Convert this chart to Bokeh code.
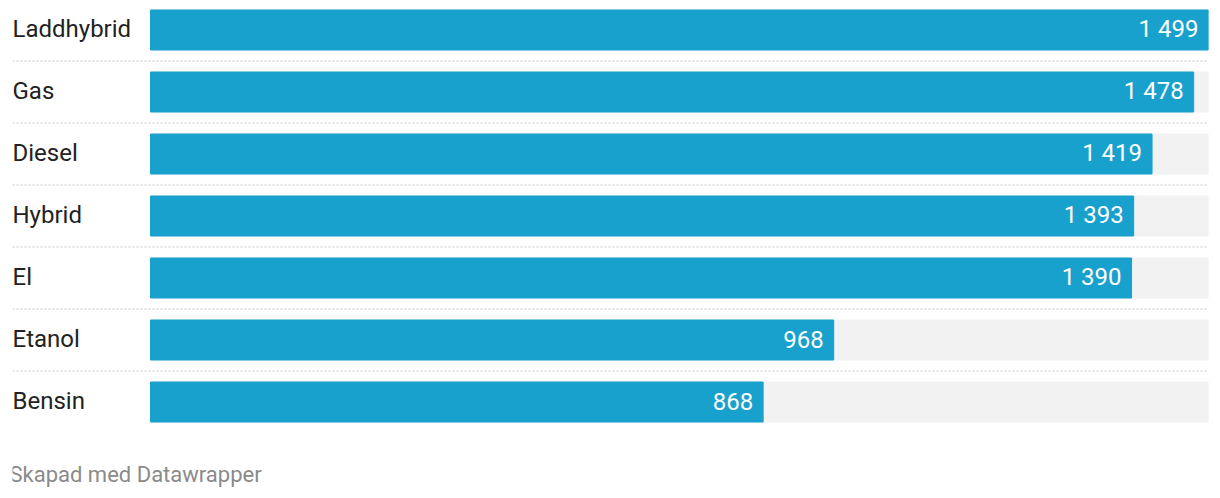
from bokeh.plotting import figure
from bokeh.models import Range1d, Label, ColumnDataSource
from bokeh.core.properties import value
from bokeh.embed import file_html
from bokeh.resources import INLINE

categories = ["Laddhybrid", "Gas", "Diesel", "Hybrid", "El", "Etanol", "Bensin"]
values = [1499, 1478, 1419, 1393, 1390, 968, 868]
value_labels = ["1 499", "1 478", "1 419", "1 393", "1 390", "968", "868"]
footer = "Skapad med Datawrapper"

BLUE = "#19a1cd"
BG = "#f2f2f2"
FONT = "Roboto"

W, H = 1220, 498
xmax = max(values)
scale = 1058 / xmax            # px per unit (bar area 150..1208 on screen)
x_start = -138 / scale         # frame begins at screen x=12
rows = list(range(len(categories)))
row_h = 62
y_top = -29.5 / row_h
y_bot = (H - 29.5) / row_h

p = figure(width=W, height=H, output_backend="svg", toolbar_location=None,
           x_range=Range1d(x_start, xmax), y_range=Range1d(y_bot, y_top),
           min_border_left=12, min_border_right=12, min_border_top=0, min_border_bottom=0)
p.axis.visible = False
p.grid.visible = False
p.outline_line_color = None
p.background_fill_color = "white"
p.border_fill_color = "white"

src = ColumnDataSource(dict(cat=categories, val=values, lab=value_labels, y=rows,
                            full=[xmax] * len(rows), lx=[x_start] * len(rows)))

bh = 40 / row_h
p.hbar(y="y", left=0, right="full", height=bh, color=BG, source=src)
p.hbar(y="y", left=0, right="val", height=bh, color=BLUE, source=src)

# separators
seps = [r + 0.5 for r in rows[:-1]]
for s in seps:
    p.line(x=[x_start, xmax], y=[s, s], line_color="#c4c4c4", line_width=1, line_dash="2 2")

p.text(x="lx", y="y", text="cat", source=src, text_font=value(FONT), text_font_size="24px",
       text_color="#222222", text_align="left", text_baseline="middle", y_offset=-1)
p.text(x="val", y="y", text="lab", source=src, text_font=value(FONT), text_font_size="24px",
       text_color="white", text_align="right", text_baseline="middle", x_offset=-10, y_offset=-1)

p.add_layout(Label(x=-3, y=24, x_units="screen", y_units="screen", text=footer,
                   text_font=FONT, text_font_size="22px", text_color="#8a8a8a",
                   text_baseline="middle", text_align="left"))

open("out.html", "w").write(file_html(p, INLINE))
